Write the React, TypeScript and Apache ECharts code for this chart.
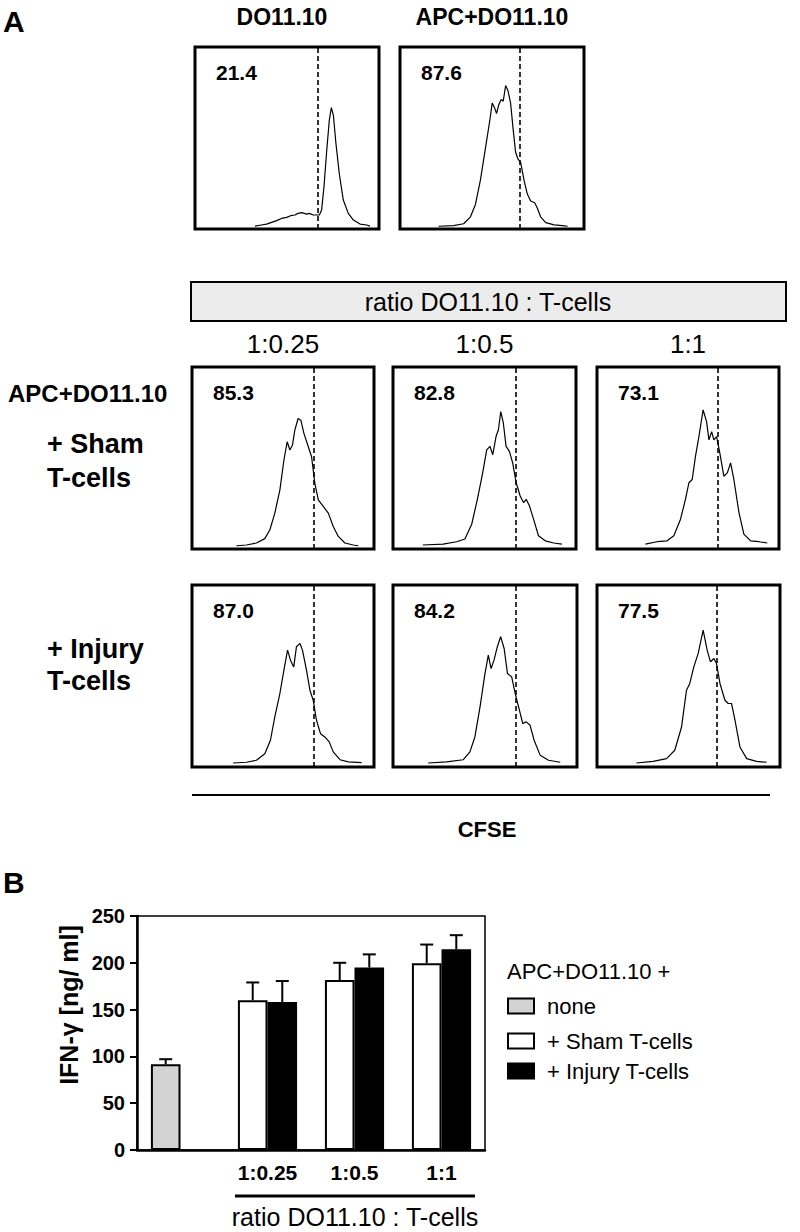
import React, { useEffect, useRef } from "react";
import * as echarts from "echarts";

// ---------- Panel A: CFSE histograms (x: % of channel range, y: % of max count) ----------
const histDO: number[][] = [[32.6,1.6],[36,2.2],[38.9,2.7],[42,3.8],[44.4,4.6],[47,5.8],[49.8,6.4],[52,7.3],[54.3,7.7],[56,8.6],[58,9.0],[60.7,8.2],[62,8.6],[64.3,7.7],[67.6,7.7],[68.8,10.4],[70.1,23.2],[71.6,43.3],[73,59.8],[74.1,66.7],[75.2,62.6],[76.6,47],[78.4,30.5],[80.6,15.9],[83.3,8.6],[86.1,4.9],[89.7,2.7],[93.3,2.2],[95.1,1.6]];
const histAPC: number[][] = [[20.9,1.5],[29.1,1.9],[34.6,2.9],[38.3,6.7],[41,13.5],[43.7,26.9],[46.4,44.2],[48.8,59.6],[50.1,69.2],[51.5,66.3],[52.5,63.5],[53.7,68.3],[55,71.2],[56.1,70.2],[57.4,78.8],[58.7,76],[60.1,69.2],[61.6,53.8],[62.8,42.3],[64.1,38.5],[65.6,36.5],[67.4,26.9],[69.2,19.2],[71,15.4],[73.2,14.4],[74.6,11.5],[76.4,6.7],[79.2,3.5],[83.8,2.3],[88.3,1.9],[91.1,1.5]];
const histSham025: number[][] = [[24.4,1.8],[29.9,2.2],[35.4,3.3],[40,5.7],[42.8,10.6],[45.5,19.7],[48.3,32.5],[50.5,48.9],[52.3,58.9],[53.8,54.4],[55.2,57.1],[56.5,65.3],[58.3,71.7],[59.8,70.8],[61.5,63.5],[63.9,56.2],[65.7,50.7],[67.5,36.1],[69.4,27],[72.1,23.4],[74.9,19.7],[77.6,12.4],[80.4,6.9],[84,3.3],[88.6,2.2],[91.4,1.8]];
const histSham05: number[][] = [[16.3,2.2],[27.4,2.7],[34.7,4],[39.3,5.5],[43,13.6],[46.1,27.3],[49,41.8],[51.2,54.5],[53,56.4],[54.5,51.8],[56.3,61.8],[57.6,65.5],[58.9,75.5],[60.3,69.1],[61.8,56.4],[63.6,53.6],[65.4,47.3],[67.3,36.4],[69.5,29.1],[71.3,25.5],[72.8,27.3],[74.6,23.6],[76.8,16.4],[79.5,7.3],[83.2,4.5],[87.8,3.3],[92.3,2.7]];
const histSham1: number[][] = [[26.6,2.7],[33,4],[38.5,4.5],[42.2,7.3],[45.9,16.4],[48.6,27.3],[50.5,36.4],[52.3,38.2],[54.1,50.9],[56,61.8],[58.3,76.4],[60.2,70],[61.5,60],[63,64.5],[64.2,60],[65.7,61.8],[67.5,52.7],[69.7,40],[71.6,41.8],[73.4,47.3],[75.2,38.2],[78,20],[80.7,8.2],[84.4,4.5],[89,4],[93.6,3.3]];
const histInj025: number[][] = [[22.6,2.2],[29.9,2.6],[35.4,3.7],[40,7.3],[43.1,14.7],[45.5,27.5],[48.3,40.4],[50.5,53.2],[52.5,64.2],[54.1,58.7],[55.9,55],[57.4,66.1],[59.3,67.9],[60.7,64.2],[62.9,53.2],[64.8,42.2],[66.6,36.7],[68.4,25.7],[70.6,18.3],[73,16.5],[75.4,13.8],[77.6,8.3],[81.3,4],[85.9,2.8],[93.2,2.4]];
const histInj05: number[][] = [[19.1,2.2],[29.1,2.8],[38.2,4],[41.8,8.3],[44.5,16.5],[47.3,33],[50,51.4],[51.8,61.5],[53.3,54.1],[54.9,58.7],[56.7,66.1],[58.5,71.6],[60.4,65.1],[62.2,51.4],[64.5,49.5],[66.4,40.4],[68.7,31.2],[70.5,23.9],[72.4,24.8],[74.5,22.9],[76.7,14.7],[80,6.4],[84.5,3.7],[90.9,2.6]];
const histInj1: number[][] = [[21.5,2.2],[30.7,3.1],[38,4.6],[42.5,9.2],[46.2,22],[48.9,42.2],[50.7,45.9],[52.9,55],[55.3,62.4],[58,75.2],[60.2,64.2],[62,57.8],[63.9,59.6],[65.3,56.9],[67.2,45.9],[69.9,36.7],[71.7,34.9],[73.5,34.9],[75.4,25.7],[78.1,11],[81.8,4.6],[87.2,3.1],[92.7,2.6]];

const histograms = [histDO, histAPC, histSham025, histSham05, histSham1, histInj025, histInj05, histInj1];
const gates = [66.7, 65.2, 66.8, 67.1, 66.4, 66.8, 66.7, 65.3];
const percentLabels = ["21.4", "87.6", "85.3", "82.8", "73.1", "87.0", "84.2", "77.5"];
const topTitles = ["DO11.10", "APC+DO11.10"];
const ratioLabels = ["1:0.25", "1:0.5", "1:1"];

// ---------- Panel B: IFN-gamma ----------
const barCategories = ["", "1:0.25", "1:0.5", "1:1"];
const noneValue = 91.5;
const noneErr = 5.5;
const shamValues = [160, 181.5, 199.5];
const shamErr = [19, 18.5, 20];
const injuryValues = [158, 195, 214.5];
const injuryErr = [22.5, 14, 15];
const yTicks = { min: 0, max: 250, interval: 50 };
const legendTitle = "APC+DO11.10 +";
const legendItems = ["none", "+ Sham T-cells", "+ Injury T-cells"];

const FONT = '"Liberation Sans", Arial, Helvetica, sans-serif';

const histGrids = [
  { left: 195, top: 47, width: 184, height: 182 },
  { left: 400, top: 47, width: 184, height: 182 },
  { left: 192, top: 367, width: 182, height: 182 },
  { left: 393, top: 367, width: 183, height: 182 },
  { left: 597, top: 367, width: 182, height: 182 },
  { left: 192, top: 585, width: 182, height: 182 },
  { left: 393, top: 585, width: 184, height: 182 },
  { left: 597, top: 585, width: 183, height: 182 },
];
const barGrid = { left: 137, top: 916, width: 348, height: 234 };

function txt(x: number, y: number, text: string, size: number, bold: boolean, align = "left", extra: any = {}) {
  return {
    type: "text",
    x,
    y,
    ...extra,
    style: {
      text,
      fill: "#000",
      fontSize: size,
      fontWeight: bold ? "bold" : "normal",
      fontFamily: FONT,
      align,
      verticalAlign: "middle",
    },
  };
}

export default function App() {
  const ref = useRef<HTMLDivElement>(null);

  useEffect(() => {
    if (!ref.current) return;
    const chart = echarts.init(ref.current, null, { renderer: "svg" });

    const grids: any[] = histGrids.map((g) => ({
      ...g,
      show: true,
      borderColor: "#000",
      borderWidth: 3,
      backgroundColor: "transparent",
      containLabel: false,
    }));
    grids.push({ ...barGrid, show: true, borderColor: "#000", borderWidth: 1.5, containLabel: false });

    const xAxes: any[] = histGrids.map((_, i) => ({
      type: "value",
      gridIndex: i,
      min: 0,
      max: 100,
      show: false,
    }));
    const yAxes: any[] = histGrids.map((_, i) => ({
      type: "value",
      gridIndex: i,
      min: 0,
      max: 100,
      show: false,
    }));
    const bi = histGrids.length;
    xAxes.push({
      type: "category",
      gridIndex: bi,
      data: barCategories,
      axisLine: { lineStyle: { color: "#000", width: 2.5 } },
      axisTick: { show: false },
      axisLabel: { color: "#000", fontSize: 21, fontWeight: "bold", fontFamily: FONT, margin: 12 },
    });
    yAxes.push({
      type: "value",
      gridIndex: bi,
      min: yTicks.min,
      max: yTicks.max,
      interval: yTicks.interval,
      axisLine: { show: true, lineStyle: { color: "#000", width: 2.5 } },
      axisTick: { show: true, length: 7, lineStyle: { color: "#000", width: 2 } },
      axisLabel: { color: "#000", fontSize: 20, fontWeight: "bold", fontFamily: FONT, margin: 12 },
      splitLine: { show: false },
    });

    const series: any[] = histograms.map((h, i) => ({
      type: "line",
      xAxisIndex: i,
      yAxisIndex: i,
      data: h,
      showSymbol: false,
      symbol: "none",
      lineStyle: { color: "#000", width: 1.2 },
      markLine: {
        silent: true,
        symbol: ["none", "none"],
        label: { show: false },
        lineStyle: { color: "#000", width: 1.6, type: [5, 3] },
        data: [{ xAxis: gates[i] }],
      },
    }));

    series.push({
      type: "bar",
      name: "Sham",
      xAxisIndex: bi,
      yAxisIndex: bi,
      barWidth: "34%",
      barGap: "0%",
      data: [{ value: noneValue, itemStyle: { color: "#d3d3d3" } }, ...shamValues],
      itemStyle: { color: "#fff", borderColor: "#000", borderWidth: 2 },
      z: 2,
    });
    series.push({
      type: "bar",
      name: "Injury",
      xAxisIndex: bi,
      yAxisIndex: bi,
      barWidth: "34%",
      barGap: "0%",
      data: ["-", ...injuryValues],
      itemStyle: { color: "#000", borderColor: "#000", borderWidth: 2 },
      z: 2,
    });

    const errData: number[][] = [[0, noneValue, noneErr, -1]];
    shamValues.forEach((v, i) => errData.push([i + 1, v, shamErr[i], -1]));
    injuryValues.forEach((v, i) => errData.push([i + 1, v, injuryErr[i], 1]));
    series.push({
      type: "custom",
      xAxisIndex: bi,
      yAxisIndex: bi,
      z: 3,
      data: errData,
      renderItem: (params: any, api: any) => {
        const cat = api.value(0);
        const v = api.value(1);
        const e = api.value(2);
        const side = api.value(3);
        const base = api.coord([cat, v]);
        const top = api.coord([cat, v + e]);
        const bw = api.size([1, 0])[0];
        const cx = base[0] + side * bw * 0.17;
        const cap = 6.5;
        return {
          type: "group",
          children: [
            { type: "line", shape: { x1: cx, y1: base[1], x2: cx, y2: top[1] }, style: { stroke: "#000", lineWidth: 2 } },
            { type: "line", shape: { x1: cx - cap, y1: top[1], x2: cx + cap, y2: top[1] }, style: { stroke: "#000", lineWidth: 2 } },
          ],
        };
      },
    });

    const graphics: any[] = [];
    // panel letters
    graphics.push(txt(3, 21, "A", 30, true));
    graphics.push(txt(3, 882, "B", 30, true));
    // top titles
    graphics.push(txt(histGrids[0].left + histGrids[0].width / 2 - 5, 17, topTitles[0], 23, true, "center"));
    graphics.push(txt(histGrids[1].left + histGrids[1].width / 2, 17, topTitles[1], 23, true, "center"));
    // percentages
    histGrids.forEach((g, i) => {
      graphics.push(txt(g.left + 21, g.top + 25, percentLabels[i], 21, true));
    });
    // ratio header
    graphics.push({
      type: "rect",
      shape: { x: 191, y: 282, width: 595, height: 39 },
      style: { fill: "#ececec", stroke: "#000", lineWidth: 2 },
    });
    graphics.push(txt(488, 302, "ratio DO11.10 : T-cells", 25, false, "center"));
    [2, 3, 4].forEach((gi, k) => {
      const g = histGrids[gi];
      graphics.push(txt(g.left + g.width / 2, 344, ratioLabels[k], 26, false, "center"));
    });
    // row labels
    graphics.push(txt(8, 393, "APC+DO11.10", 24, true));
    graphics.push(txt(47, 444, "+ Sham", 27, true));
    graphics.push(txt(47, 478, "T-cells", 27, true));
    graphics.push(txt(47, 649, "+ Injury", 27, true));
    graphics.push(txt(47, 681, "T-cells", 27, true));
    // CFSE
    graphics.push({ type: "line", shape: { x1: 192, y1: 795, x2: 770, y2: 795 }, style: { stroke: "#000", lineWidth: 2 } });
    graphics.push(txt(487, 829, "CFSE", 22, true, "center"));
    // Panel B y-axis name
    graphics.push(txt(69, 1005, "IFN-γ [ng/ ml]", 25, true, "center", { rotation: Math.PI / 2 }));
    // under-axis ratio bar
    graphics.push({ type: "line", shape: { x1: 235, y1: 1196, x2: 475, y2: 1196 }, style: { stroke: "#000", lineWidth: 3 } });
    graphics.push(txt(355, 1217, "ratio DO11.10 : T-cells", 25, false, "center"));
    // legend
    graphics.push(txt(507, 971, legendTitle, 22, false));
    const legendFills = ["#d3d3d3", "#fff", "#000"];
    const legendY = [1006, 1041, 1071];
    legendItems.forEach((label, i) => {
      graphics.push({
        type: "rect",
        shape: { x: 508, y: legendY[i] - 7.5, width: 26, height: 15 },
        style: { fill: legendFills[i], stroke: "#000", lineWidth: 2 },
      });
      graphics.push(txt(547, legendY[i], label, 22, false));
    });

    chart.setOption({
      animation: false,
      backgroundColor: "#fff",
      grid: grids,
      xAxis: xAxes,
      yAxis: yAxes,
      series,
      graphic: { elements: graphics },
    });

    return () => chart.dispose();
  }, []);

  return (
    <div
      ref={ref}
      style={{ position: "absolute", left: 0, top: 0, width: 800, height: 1232, background: "#fff" }}
    />
  );
}
